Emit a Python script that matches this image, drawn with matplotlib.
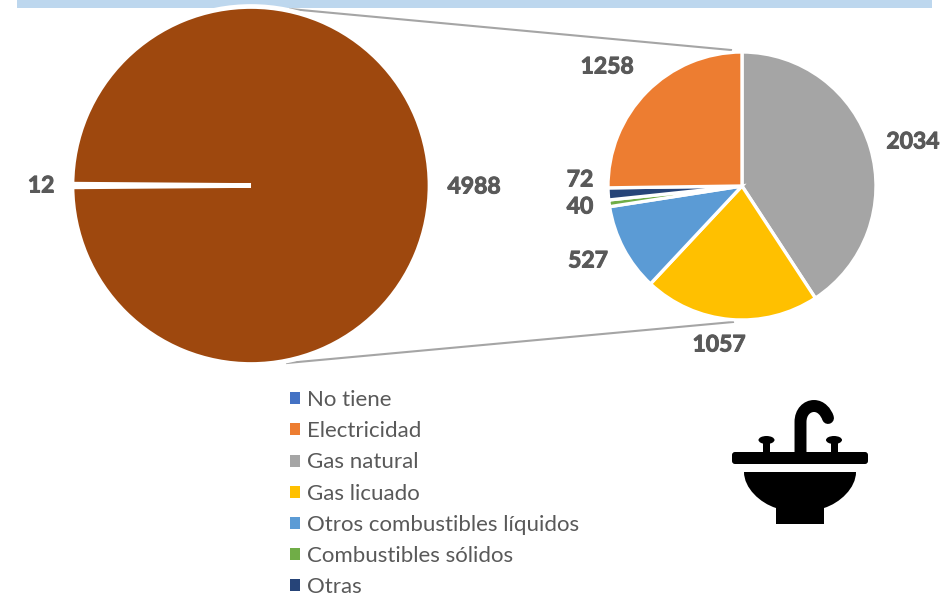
from matplotlib import pyplot as plt
from matplotlib import patheffects as pe
from matplotlib.patches import Patch, PathPatch, FancyBboxPatch, Ellipse, Rectangle
from matplotlib.path import Path

plt.rcParams["font.family"] = ["Lato", "DejaVu Sans"]

legend_labels = [
    "No tiene",
    "Electricidad",
    "Gas natural",
    "Gas licuado",
    "Otros combustibles líquidos",
    "Combustibles sólidos",
    "Otras",
]
legend_colors = ["#4472C4", "#ED7D31", "#A5A5A5", "#FFC000", "#5B9BD5", "#70AD47", "#264478"]

# left pie: "No tiene" against everything else
main_values = [12, 4988]
main_colors = ["#4472C4", "#9E480E"]

# right pie, clockwise from the top
detail_values = [2034, 1057, 527, 40, 72, 1258]
detail_colors = ["#A5A5A5", "#FFC000", "#5B9BD5", "#70AD47", "#264478", "#ED7D31"]

TEXT_GREY = "#595959"
W, H = 940, 598


def py(y):
    # picture y (from the top) to axes y
    return H - y


fig = plt.figure(figsize=(9.4, 5.98), dpi=100)
ax = fig.add_axes([0, 0, 1, 1])

# band along the top edge
ax.add_patch(Rectangle((17, py(8)), 915, 8, color="#BDD7EE", lw=0))

# connector lines
ax.plot([290, 731], [py(9), py(50)], color="#A5A5A5", lw=1.5, zorder=1)
ax.plot([287, 733], [py(363), py(322)], color="#A5A5A5", lw=1.5, zorder=1)

ax.pie(
    main_values,
    colors=main_colors,
    center=(251, py(185.5)),
    radius=179,
    startangle=180 - 0.43,
    wedgeprops={"edgecolor": "white", "linewidth": 3.4},
    frame=True,
)
ax.pie(
    detail_values,
    colors=detail_colors,
    center=(742, py(186)),
    radius=134,
    startangle=90,
    counterclock=False,
    wedgeprops={"edgecolor": "white", "linewidth": 2.4},
    frame=True,
)

# value labels
label_font = {
    "fontsize": 16.5,
    "fontweight": "bold",
    "color": TEXT_GREY,
    "ha": "center",
    "va": "center",
    "path_effects": [pe.withStroke(linewidth=0.7, foreground=TEXT_GREY)],
}
ax.text(41, py(186), "12", **label_font)
ax.text(474, py(187), "4988", **label_font)
ax.text(913, py(142), "2034", **label_font)
ax.text(719, py(345), "1057", **label_font)
ax.text(588, py(261), "527", **label_font)
ax.text(580, py(207), "40", **label_font)
ax.text(580, py(180), "72", **label_font)
ax.text(607, py(67), "1258", **label_font)

handles = [Patch(color=c, lw=0) for c in legend_colors]
ax.legend(
    handles,
    legend_labels,
    loc="upper left",
    bbox_to_anchor=(290 / W, 1 - 390 / H),
    frameon=False,
    fontsize=16,
    labelcolor=TEXT_GREY,
    handlelength=0.45,
    handleheight=0.45,
    handletextpad=0.32,
    labelspacing=0.505,
    borderpad=0,
    borderaxespad=0,
)

# sink icon
ax.add_patch(FancyBboxPatch((732, py(464)), 136, 12, boxstyle="round,pad=0,rounding_size=3", lw=0, fc="black"))
basin = Path(
    [
        (744, py(472)), (856, py(472)),
        (856, py(488)), (840, py(503)), (824, py(508)),
        (824, py(524)), (776, py(524)), (776, py(508)),
        (760, py(503)), (744, py(488)), (744, py(472)),
        (744, py(472)),
    ],
    [
        Path.MOVETO, Path.LINETO,
        Path.CURVE4, Path.CURVE4, Path.CURVE4,
        Path.LINETO, Path.LINETO, Path.LINETO,
        Path.CURVE4, Path.CURVE4, Path.CURVE4,
        Path.CLOSEPOLY,
    ],
)
ax.add_patch(PathPatch(basin, fc="black", lw=0))
faucet = Path(
    [
        (800.5, py(453)), (800.5, py(422)),
        (800.5, py(412)), (807, py(406)), (814, py(406)),
        (821, py(406)), (826, py(412)), (828, py(418)),
    ],
    [Path.MOVETO, Path.LINETO, Path.CURVE4, Path.CURVE4, Path.CURVE4, Path.CURVE4, Path.CURVE4, Path.CURVE4],
)
ax.add_patch(PathPatch(faucet, fc="none", ec="black", lw=8.6, capstyle="round"))
for hx in [766.5, 834]:
    ax.add_patch(Rectangle((hx - 3.5, py(453)), 7, 14, fc="black", lw=0))
    ax.add_patch(Ellipse((hx, py(440)), 16, 8, fc="black", lw=0))

ax.set_xlim(0, W)
ax.set_ylim(0, H)
ax.set_aspect("equal")
ax.axis("off")

fig.savefig("out.png", dpi=100)
